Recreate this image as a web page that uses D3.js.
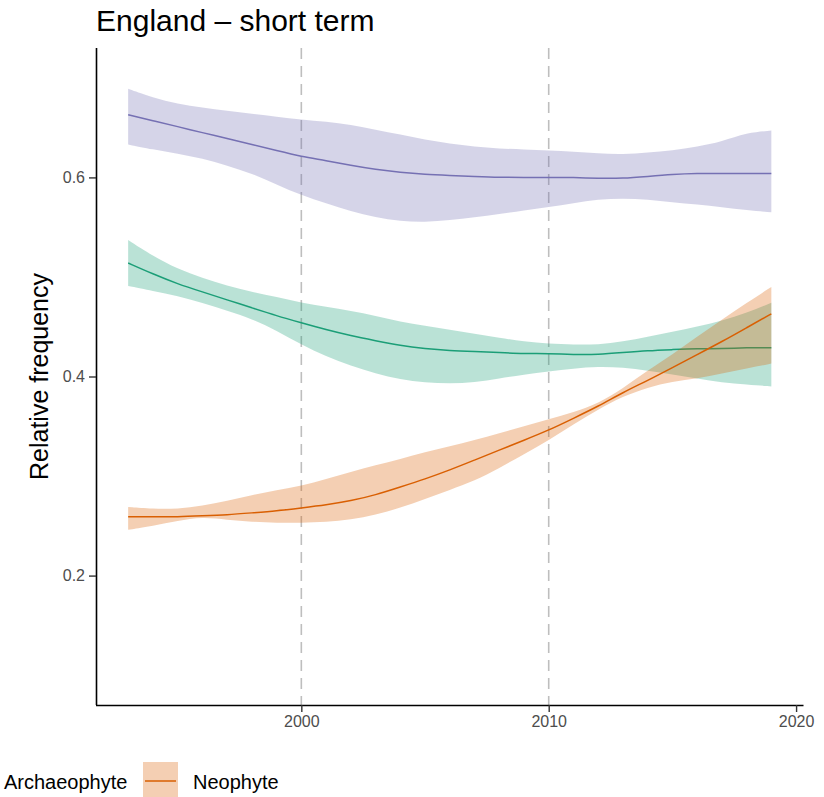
<!DOCTYPE html>
<html>
<head>
<meta charset="utf-8">
<script src="https://cdn.jsdelivr.net/npm/d3@7"></script>
<style>
  html, body { margin: 0; padding: 0; background: #fff; }
  svg { display: block; }
  text { font-family: "Liberation Sans", Arial, sans-serif; }
</style>
</head>
<body>
<svg id="chart" width="824" height="797"></svg>
<script>
// Survey years
const years = [1993,1994,1995,1996,1997,1998,1999,2000,2001,2002,2003,2004,2005,2006,
               2007,2008,2009,2010,2011,2012,2013,2014,2015,2016,2017,2018,2019];

// Smoothed relative frequency with confidence band, per status group
const archaeoFit   = [.514,.503,.493,.485,.477,.469,.461,.454,.447,.441,.436,.431,.428,.426,
                      .425,.424,.423,.423,.422,.422,.424,.426,.427,.428,.428,.429,.429];
const archaeoUpper = [.537,.521,.508,.499,.491,.485,.480,.474,.470,.466,.461,.455,.451,.447,
                      .443,.439,.435,.433,.432,.432,.435,.440,.445,.450,.456,.464,.474];
const archaeoLower = [.491,.486,.481,.474,.466,.458,.446,.432,.420,.411,.403,.397,.394,.393,
                      .394,.398,.402,.405,.408,.410,.409,.406,.402,.398,.394,.392,.390];

const nativeFit    = [.663,.657,.651,.645,.639,.633,.627,.621,.617,.612,.608,.605,.603,.602,
                      .601,.600,.600,.600,.600,.599,.599,.601,.603,.604,.604,.604,.604];
const nativeUpper  = [.689,.680,.674,.670,.667,.664,.661,.658,.656,.653,.648,.643,.638,.634,
                      .631,.629,.628,.627,.626,.624,.623,.625,.627,.631,.636,.645,.647];
const nativeLower  = [.633,.628,.624,.619,.612,.604,.593,.582,.574,.566,.560,.556,.555,.557,
                      .560,.563,.567,.570,.574,.578,.579,.578,.575,.573,.570,.567,.565];

const neoFit       = [.259,.259,.259,.260,.261,.263,.265,.268,.271,.275,.281,.289,.297,.306,
                      .316,.326,.336,.346,.358,.370,.384,.396,.409,.422,.435,.449,.463];
const neoUpper     = [.269,.267,.267,.270,.275,.281,.286,.290,.297,.304,.311,.317,.324,.330,
                      .336,.343,.350,.357,.364,.373,.388,.406,.422,.440,.457,.474,.490];
const neoLower     = [.246,.250,.255,.259,.256,.254,.253,.253,.254,.256,.261,.268,.277,.286,
                      .295,.308,.322,.336,.352,.367,.380,.389,.395,.398,.403,.408,.413];

const groups = ["Archaeophyte", "Native", "Neophyte"];
const groupColors = ["#1B9E77", "#7570B3", "#D95F02"];

// Axis ticks and reference years
const xTicks = [2000, 2010, 2020];
const yTicks = [0.2, 0.4, 0.6];
const refYears = [2000, 2010];

const titleText = "England \u2013 short term";
const yTitle = "Relative frequency";

const series = [
  { name: groups[0], fit: archaeoFit, upper: archaeoUpper, lower: archaeoLower },
  { name: groups[1], fit: nativeFit,  upper: nativeUpper,  lower: nativeLower  },
  { name: groups[2], fit: neoFit,     upper: neoUpper,     lower: neoLower     }
];

const svg = d3.select("#chart");
const panel = { left: 96, right: 803.5, top: 48, bottom: 705 };

const x = d3.scaleLinear().domain([1991.7, 2020.3]).range([panel.left, panel.right]);
const y = d3.scaleLinear().domain([0.07, 0.73]).range([panel.bottom, panel.top]);
const color = d3.scaleOrdinal().domain(groups).range(groupColors);

// Dashed reference lines
svg.append("g").selectAll("line").data(refYears).join("line")
  .attr("x1", d => x(d)).attr("x2", d => x(d))
  .attr("y1", panel.top).attr("y2", panel.bottom)
  .attr("stroke", "#BEBEBE").attr("stroke-width", 1.6)
  .attr("stroke-dasharray", "11,7");

const area = d3.area().curve(d3.curveBasis)
  .x((d, i) => x(years[i]))
  .y0(d => y(d[0])).y1(d => y(d[1]));
const line = d3.line().curve(d3.curveBasis)
  .x((d, i) => x(years[i])).y(d => y(d));

// Each group: ribbon first, then its fitted line
const layers = svg.append("g");
series.forEach(s => {
  const band = years.map((yr, i) => [s.lower[i], s.upper[i]]);
  layers.append("path").datum(band)
    .attr("d", area)
    .attr("fill", color(s.name)).attr("fill-opacity", 0.3);
  layers.append("path").datum(s.fit)
    .attr("d", line)
    .attr("fill", "none").attr("stroke", color(s.name)).attr("stroke-width", 1.5);
});

// Axes
const xAxis = d3.axisBottom(x).tickValues(xTicks).tickFormat(d3.format("d"))
  .tickSize(7).tickPadding(4);
const yAxis = d3.axisLeft(y).tickValues(yTicks).tickFormat(d3.format(".1f"))
  .tickSize(7).tickPadding(4);

const gx = svg.append("g").attr("transform", `translate(0,${panel.bottom})`).call(xAxis);
const gy = svg.append("g").attr("transform", `translate(${panel.left},0)`).call(yAxis);

[gx, gy].forEach(g => {
  g.select(".domain").attr("stroke", "#000").attr("stroke-width", 1.6);
  g.selectAll(".tick line").attr("stroke", "#333").attr("stroke-width", 1.4);
  g.selectAll(".tick text").attr("fill", "#4D4D4D")
    .style("font-size", "16px").style("font-family", "'Liberation Sans', Arial, sans-serif");
});
gx.select(".domain").attr("d", `M${panel.left},0.5H${panel.right}`);
gy.select(".domain").attr("d", `M0.5,${panel.top}V${panel.bottom}`);

// Title
svg.append("text")
  .attr("x", 96).attr("y", 31)
  .style("font-size", "30px").attr("fill", "#000")
  .text(titleText);

// Y axis title
svg.append("text")
  .attr("transform", `translate(48,${(panel.top + panel.bottom) / 2}) rotate(-90)`)
  .attr("text-anchor", "middle")
  .style("font-size", "25px").attr("fill", "#000")
  .text(yTitle);

// Legend (bottom)
const legend = svg.append("g");
legend.append("text")
  .attr("x", 4).attr("y", 789)
  .style("font-size", "20px").attr("fill", "#000")
  .text(groups[0]);
const key = legend.append("g").attr("transform", "translate(143,762)");
key.append("rect").attr("width", 35).attr("height", 35)
  .attr("fill", color(groups[2])).attr("fill-opacity", 0.3);
key.append("line").attr("x1", 2).attr("x2", 33).attr("y1", 19).attr("y2", 19)
  .attr("stroke", color(groups[2])).attr("stroke-width", 1.5);
legend.append("text")
  .attr("x", 193).attr("y", 789)
  .style("font-size", "20px").attr("fill", "#000")
  .text(groups[2]);
</script>
</body>
</html>
